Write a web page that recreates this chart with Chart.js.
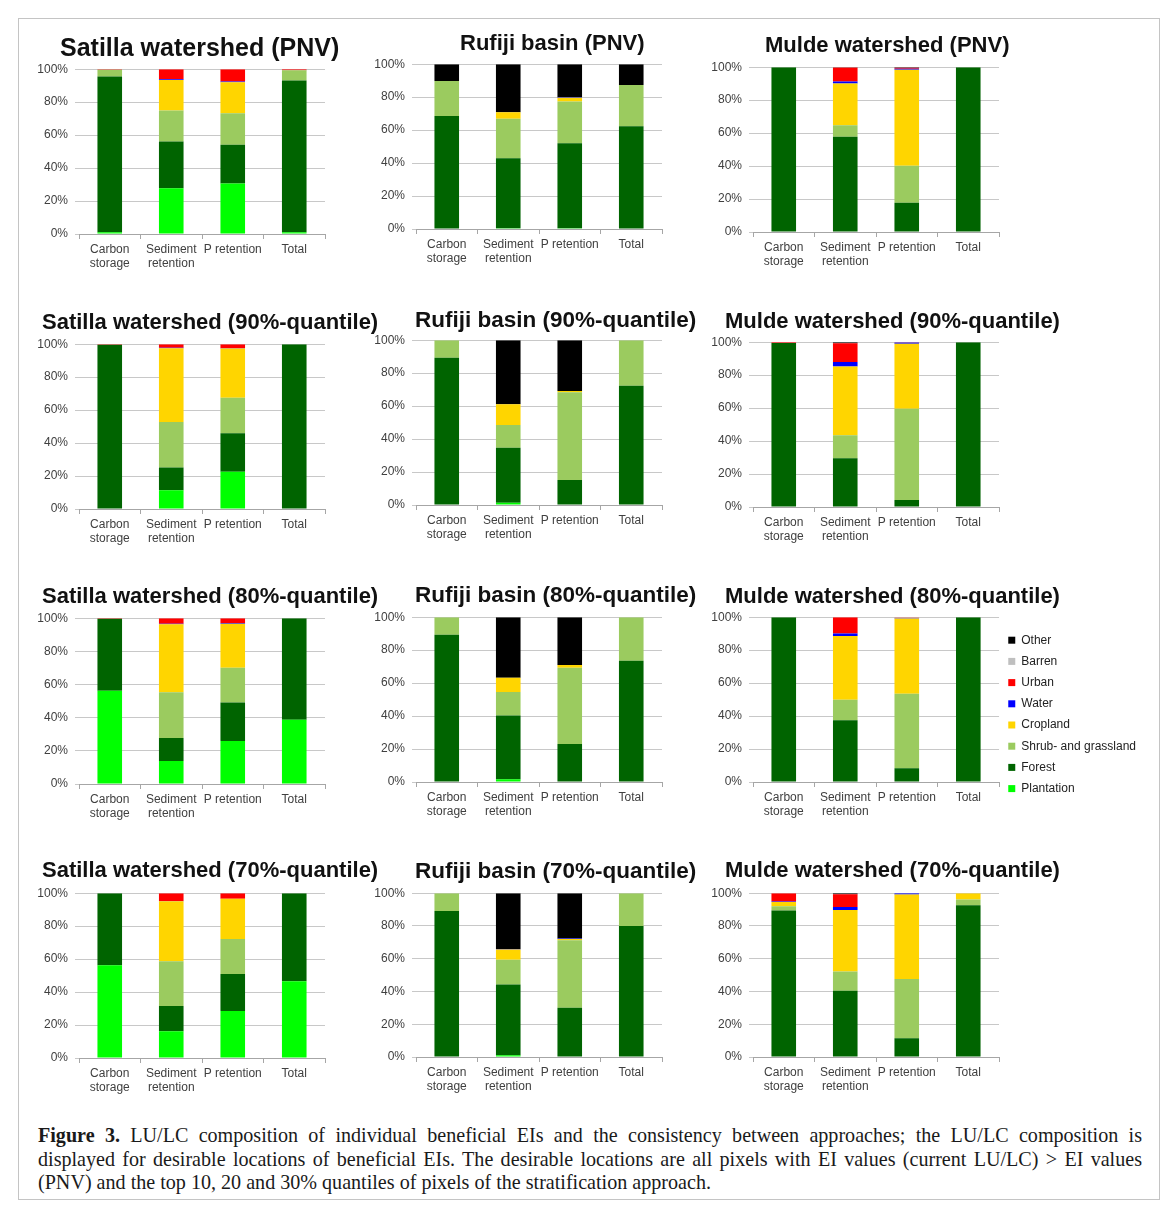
<!DOCTYPE html>
<html>
<head>
<meta charset="utf-8">
<script src="https://cdn.jsdelivr.net/npm/chart.js@4.4.0/dist/chart.umd.min.js"></script>
<style>
html, body { margin: 0; padding: 0; background: #fff; }
body { width: 1170px; height: 1209px; position: relative; overflow: hidden; font-family: 'Liberation Sans', Arial, sans-serif; }
.frame { position: absolute; left: 18px; top: 18px; width: 1140px; height: 1180px; border: 1px solid #c4c4c4; }
.panel { position: absolute; }
.title { position: absolute; font-weight: bold; line-height: 1; white-space: nowrap; color: #111; }
.caption { position: absolute; left: 38px; top: 1124px; width: 1104px; font-family: 'Liberation Serif', 'Times New Roman', serif; font-size: 20.1px; line-height: 23.5px; color: #1a1a1a; }
.caption div { text-align: justify; text-align-last: justify; white-space: nowrap; }
.caption div.last { text-align-last: left; }
</style>
</head>
<body>
<div class="frame"></div>
<div class="caption">
  <div><b>Figure 3.</b> LU/LC composition of individual beneficial EIs and the consistency between approaches; the LU/LC composition is</div>
  <div>displayed for desirable locations of beneficial EIs. The desirable locations are all pixels with EI values (current LU/LC) &gt; EI values</div>
  <div class="last">(PNV) and the top 10, 20 and 30% quantiles of pixels of the stratification approach.</div>
</div>
<script>
// categories along the x axis
const categories = [['Carbon', 'storage'], ['Sediment', 'retention'], 'P retention', 'Total'];

// land cover classes, bottom of the stack first
const classes = ['Plantation', 'Forest', 'Shrub- and grassland', 'Cropland', 'Water', 'Urban', 'Barren', 'Other'];
const classColors = ['#00ff00', '#006400', '#9bcb5f', '#ffd500', '#0000ff', '#ff0000', '#bfbfbf', '#000000'];

const yTicks = [0, 20, 40, 60, 80, 100];

// share (%) of each class, one row per class, columns follow categories
const satillaPNV = [
  [1.0, 27.8, 30.7, 1.0],
  [94.5, 28.3, 23.4, 92.1],
  [4.1, 18.9, 19.1, 6.3],
  [0, 18.5, 18.9, 0],
  [0, 0.4, 0.4, 0],
  [0.4, 6.1, 7.5, 0.6],
  [0, 0, 0, 0],
  [0, 0, 0, 0]
];
const rufijiPNV = [
  [0, 0.5, 0.5, 0],
  [68.5, 42.4, 51.5, 62.4],
  [21.3, 24.0, 25.4, 25.0],
  [0, 4.0, 2.3, 0],
  [0, 0, 0.3, 0],
  [0, 0, 0, 0],
  [0, 0, 0, 0],
  [10.2, 29.1, 20.0, 12.6]
];
const muldePNV = [
  [0, 0, 0, 0],
  [100, 57.8, 17.8, 100],
  [0, 6.9, 22.4, 0],
  [0, 25.4, 58.2, 0],
  [0, 1.2, 0.6, 0],
  [0, 8.5, 0.7, 0],
  [0, 0, 0, 0],
  [0, 0.2, 0.3, 0]
];
const satilla90 = [
  [0, 11.4, 22.6, 0],
  [99.6, 13.8, 23.3, 100],
  [0, 27.6, 21.6, 0],
  [0, 44.8, 29.9, 0],
  [0, 0.2, 0.2, 0],
  [0.4, 2.2, 2.4, 0],
  [0, 0, 0, 0],
  [0, 0, 0, 0]
];
const rufiji90 = [
  [0, 1.4, 0, 0],
  [89.3, 33.3, 15.2, 72.4],
  [10.7, 13.8, 53.2, 27.6],
  [0, 12.6, 0.8, 0],
  [0, 0, 0, 0],
  [0, 0, 0, 0],
  [0, 0, 0, 0],
  [0, 38.9, 30.8, 0]
];
const mulde90 = [
  [0, 0, 0, 0],
  [99.5, 29.6, 4.3, 100],
  [0, 14.0, 55.3, 0],
  [0, 41.6, 39.4, 0],
  [0, 2.8, 0.8, 0],
  [0.5, 11.4, 0.2, 0],
  [0, 0, 0, 0],
  [0, 0.6, 0, 0]
];
const satilla80 = [
  [56.2, 13.9, 25.9, 38.7],
  [43.4, 13.8, 23.2, 61.3],
  [0, 27.7, 21.0, 0],
  [0, 40.9, 26.6, 0],
  [0, 0.3, 0.4, 0],
  [0.4, 3.4, 2.9, 0],
  [0, 0, 0, 0],
  [0, 0, 0, 0]
];
const rufiji80 = [
  [0, 1.6, 0, 0],
  [89.3, 38.8, 23.1, 73.6],
  [10.7, 14.2, 46.3, 26.4],
  [0, 8.7, 1.6, 0],
  [0, 0, 0, 0],
  [0, 0, 0, 0],
  [0, 0, 0, 0],
  [0, 36.7, 29.0, 0]
];
const mulde80 = [
  [0, 0, 0, 0],
  [100, 37.5, 8.3, 100],
  [0, 12.4, 45.3, 0],
  [0, 38.7, 45.6, 0],
  [0, 1.5, 0.3, 0],
  [0, 9.9, 0.2, 0],
  [0, 0, 0.3, 0],
  [0, 0, 0, 0]
];
const satilla70 = [
  [56.3, 16.3, 28.5, 46.5],
  [43.7, 15.2, 22.5, 53.5],
  [0, 27.2, 21.2, 0],
  [0, 36.4, 24.5, 0],
  [0, 0.2, 0, 0],
  [0, 4.7, 3.3, 0],
  [0, 0, 0, 0],
  [0, 0, 0, 0]
];
const rufiji70 = [
  [0, 1.0, 0, 0],
  [89.1, 43.3, 30.0, 80.0],
  [10.9, 15.0, 41.3, 20.0],
  [0, 6.3, 0.7, 0],
  [0, 0.4, 0.3, 0],
  [0, 0, 0, 0],
  [0, 0, 0, 0],
  [0, 34.0, 27.7, 0]
];
const mulde70 = [
  [0, 0, 0, 0],
  [89.5, 40.5, 11.5, 92.7],
  [2.6, 11.7, 36.1, 3.5],
  [2.6, 37.5, 51.6, 3.8],
  [0.3, 1.8, 0.8, 0],
  [5.0, 7.9, 0, 0],
  [0, 0, 0, 0],
  [0, 0.6, 0, 0]
];

// panel layout: plot area [left, right, top(100%), bottom(0%)], title left/baseline/size
const panels = [
  { title: 'Satilla watershed (PNV)', data: satillaPNV, area: [79, 325, 65, 234], t: [60, 56, 25] },
  { title: 'Rufiji basin (PNV)', data: rufijiPNV, area: [416, 662, 60, 229], t: [460, 51, 22] },
  { title: 'Mulde watershed (PNV)', data: muldePNV, area: [753, 999, 63, 232], t: [765, 53, 22] },
  { title: 'Satilla watershed (90%-quantile)', data: satilla90, area: [79, 325, 340, 509], t: [42, 330, 22] },
  { title: 'Rufiji basin (90%-quantile)', data: rufiji90, area: [416, 662, 336, 505], t: [415, 328, 22.5] },
  { title: 'Mulde watershed (90%-quantile)', data: mulde90, area: [753, 999, 338, 507], t: [725, 329, 22] },
  { title: 'Satilla watershed (80%-quantile)', data: satilla80, area: [79, 325, 614, 784], t: [42, 604, 22] },
  { title: 'Rufiji basin (80%-quantile)', data: rufiji80, area: [416, 662, 613, 782], t: [415, 603, 22.5] },
  { title: 'Mulde watershed (80%-quantile)', data: mulde80, area: [753, 999, 613, 782], t: [725, 604, 22], legend: true },
  { title: 'Satilla watershed (70%-quantile)', data: satilla70, area: [79, 325, 889, 1058], t: [42, 878, 22] },
  { title: 'Rufiji basin (70%-quantile)', data: rufiji70, area: [416, 662, 889, 1057], t: [415, 879, 22.5] },
  { title: 'Mulde watershed (70%-quantile)', data: mulde70, area: [753, 999, 889, 1057], t: [725, 878, 22] }
];

const YW = 46;   // width reserved for y tick labels
const PT = 10;   // space above the 100% line
const XH = 42;   // height reserved for category labels
const textColor = '#404040';
const font12 = { family: "'Liberation Sans', Arial, sans-serif", size: 12 };

function chartConfig(p, yw, right) {
  const datasets = classes.map((name, i) => ({
    label: name,
    data: p.data[i],
    backgroundColor: classColors[i],
    borderWidth: 0,
    barPercentage: 0.4,
    categoryPercentage: 1.0
  }));
  return {
    type: 'bar',
    data: { labels: categories, datasets: datasets },
    options: {
      responsive: true,
      maintainAspectRatio: false,
      animation: false,
      layout: { padding: { top: PT, right: p.legend ? 0 : right, left: 0, bottom: 0 } },
      plugins: {
        title: { display: false },
        tooltip: { enabled: false },
        legend: {
          display: !!p.legend,
          position: 'right',
          align: 'start',
          reverse: true,
          title: { display: true, text: '', font: { size: 12, lineHeight: 1 }, padding: 0 },
          labels: {
            boxWidth: 7,
            boxHeight: 7,
            padding: 9.2,
            color: '#222',
            font: font12
          }
        }
      },
      scales: {
        x: {
          stacked: true,
          afterFit: s => { s.height = XH; },
          grid: { offset: true, drawOnChartArea: false, drawTicks: true, tickLength: 5, color: '#a6a6a6' },
          border: { display: true, color: '#a6a6a6' },
          ticks: { color: textColor, font: font12, padding: 3, maxRotation: 0, autoSkip: false }
        },
        y: {
          stacked: true,
          min: 0,
          max: 100,
          afterFit: s => { s.width = yw; },
          afterBuildTicks: s => { s.ticks = yTicks.map(v => ({ value: v })); },
          grid: { color: '#c8c8c8', tickLength: 4 },
          border: { display: false },
          ticks: { color: textColor, font: font12, padding: 7, callback: v => v + '%' }
        }
      }
    }
  };
}

function makeChart(p) {
  const [x0, x1, yTop, yBot] = p.area;
  // the legend panel gets a wide (empty) y box so the side legend is not capped
  const yw = p.legend ? YW + 200 : YW;
  const right = p.legend ? 150 : 4;

  const wrap = document.createElement('div');
  wrap.className = 'panel';
  wrap.style.left = (x0 - yw) + 'px';
  wrap.style.top = (yTop - PT) + 'px';
  wrap.style.width = (x1 - x0 + yw + right) + 'px';
  wrap.style.height = (yBot - yTop + PT + XH) + 'px';
  let canvas = document.createElement('canvas');
  wrap.appendChild(canvas);
  document.body.appendChild(wrap);

  const title = document.createElement('div');
  title.className = 'title';
  title.textContent = p.title;
  title.style.fontSize = p.t[2] + 'px';
  title.style.left = p.t[0] + 'px';
  title.style.top = (p.t[1] - 0.8465 * p.t[2]) + 'px';
  document.body.appendChild(title);

  let chart = new Chart(canvas, chartConfig(p, yw, right));

  if (p.legend) {
    // rebuild with a canvas wide enough that the plot area ends where the other Mulde panels end
    const want = x1 - (x0 - yw);
    const diff = Math.round(want - chart.chartArea.right);
    chart.destroy();
    wrap.removeChild(canvas);
    wrap.style.width = (parseInt(wrap.style.width, 10) + diff) + 'px';
    canvas = document.createElement('canvas');
    wrap.appendChild(canvas);
    chart = new Chart(canvas, chartConfig(p, yw, right));
  }
}

panels.forEach(makeChart);
</script>
</body>
</html>
